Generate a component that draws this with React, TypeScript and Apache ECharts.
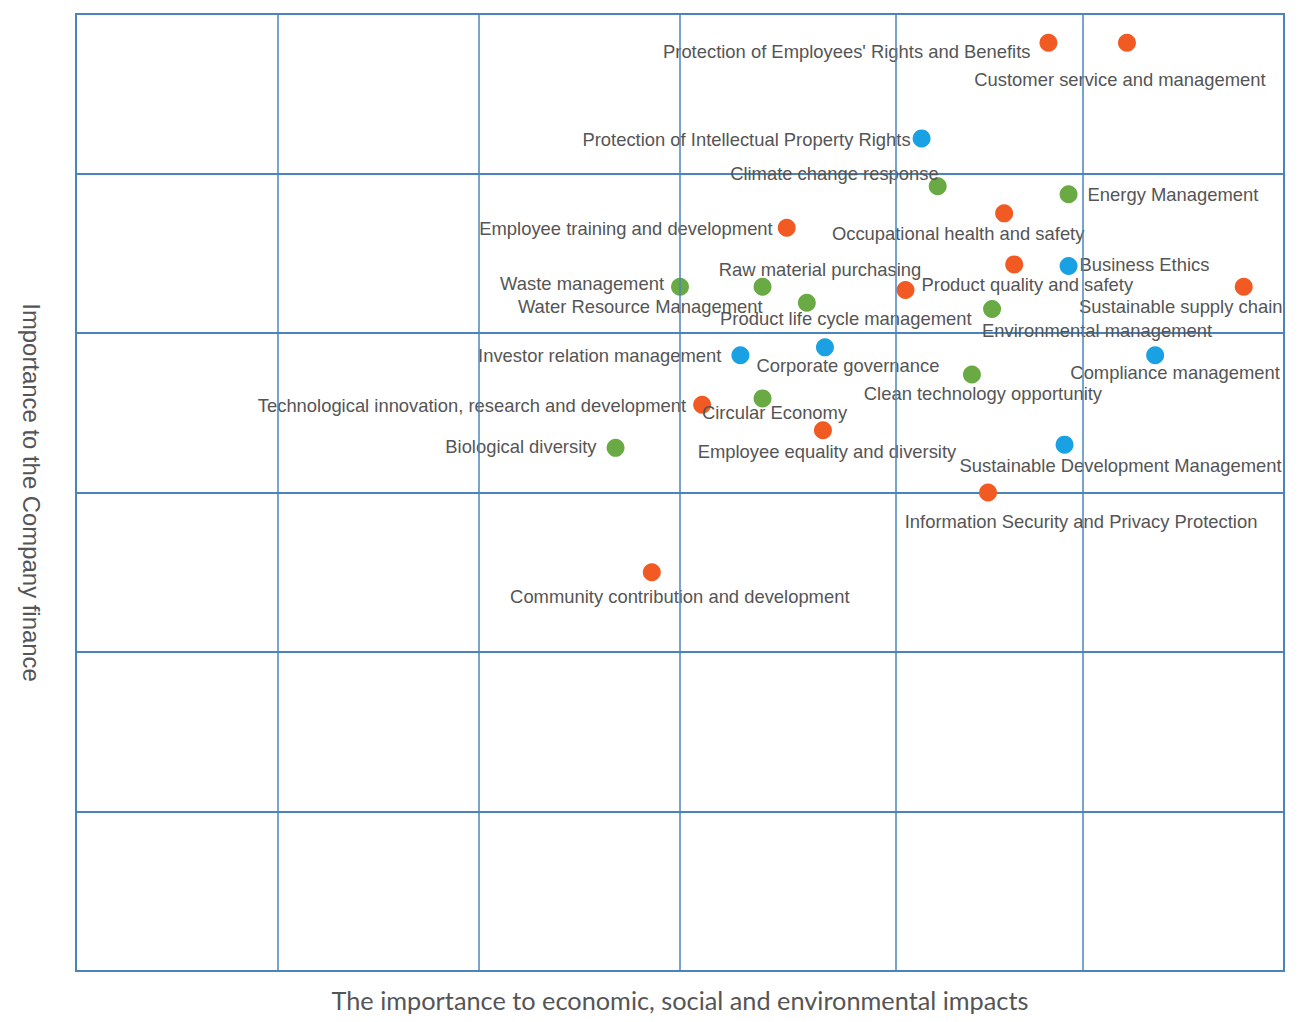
import React, { useEffect, useRef } from "react";
import * as echarts from "echarts";

// Vertical divider positions on the impact axis (grid structure)
const xDividers = [1, 2, 3, 4.07, 5];

// Orange topics
const orangeTopics = [
  "Protection of Employees' Rights and Benefits",
  "Customer service and management",
  "Occupational health and safety",
  "Employee training and development",
  "Raw material purchasing",
  "Product quality and safety",
  "Sustainable supply chain",
  "Technological innovation, research and development",
  "Employee equality and diversity",
  "Information Security and Privacy Protection",
  "Community contribution and development",
];
const orangeImpact = [4.83, 5.22, 4.61, 3.53, 4.66, 4.12, 5.8, 3.11, 3.71, 4.53, 2.86];
const orangeFinance = [5.82, 5.82, 4.75, 4.66, 4.43, 4.27, 4.29, 3.55, 3.39, 3.0, 2.5];

// Blue topics
const blueTopics = [
  "Protection of Intellectual Property Rights",
  "Business Ethics",
  "Investor relation management",
  "Corporate governance",
  "Compliance management",
  "Sustainable Development Management",
];
const blueImpact = [4.2, 4.93, 3.3, 3.72, 5.36, 4.91];
const blueFinance = [5.22, 4.42, 3.86, 3.91, 3.86, 3.3];

// Green topics
const greenTopics = [
  "Climate change response",
  "Energy Management",
  "Waste management",
  "Water Resource Management",
  "Product life cycle management",
  "Environmental management",
  "Clean technology opportunity",
  "Circular Economy",
  "Biological diversity",
];
const greenImpact = [4.28, 4.93, 3.0, 3.41, 3.63, 4.55, 4.45, 3.41, 2.68];
const greenFinance = [4.92, 4.87, 4.29, 4.29, 4.19, 4.15, 3.74, 3.59, 3.28];

// Label placement (offset from point centre in px, alignment)
const labelPlacement: Record<string, [number, number, string]> = {
  "Protection of Employees' Rights and Benefits": [-18, 9, "right"],
  "Customer service and management": [-7, 37, "center"],
  "Occupational health and safety": [-46, 20, "center"],
  "Employee training and development": [-14, 1, "right"],
  "Raw material purchasing": [-93, 5, "right"],
  "Product quality and safety": [16, -5, "left"],
  "Sustainable supply chain": [-63, 20, "center"],
  "Technological innovation, research and development": [-16, 1, "right"],
  "Employee equality and diversity": [4, 21, "center"],
  "Information Security and Privacy Protection": [93, 29, "center"],
  "Community contribution and development": [28, 24, "center"],
  "Protection of Intellectual Property Rights": [-11, 1, "right"],
  "Business Ethics": [11, -2, "left"],
  "Investor relation management": [-19, 0, "right"],
  "Corporate governance": [23, 18, "center"],
  "Compliance management": [20, 17, "center"],
  "Sustainable Development Management": [56, 21, "center"],
  "Climate change response": [1, -13, "right"],
  "Energy Management": [19, 0, "left"],
  "Waste management": [-16, -3, "right"],
  "Water Resource Management": [0, 20, "right"],
  "Product life cycle management": [39, 16, "center"],
  "Environmental management": [105, 21, "center"],
  "Clean technology opportunity": [11, 19, "center"],
  "Circular Economy": [12, 14, "center"],
  "Biological diversity": [-19, -1, "right"],
};

const GRID = "#4a84bd";
const TEXT = "#555555";

export default function App() {
  const ref = useRef<HTMLDivElement>(null);
  useEffect(() => {
    const chart = echarts.init(ref.current as HTMLDivElement, null, { renderer: "svg" });
    const mk = (names: string[], xs: number[], ys: number[], color: string) => ({
      type: "scatter",
      symbol: "circle",
      symbolSize: 18,
      z: 3,
      itemStyle: { color, opacity: 1 },
      emphasis: { disabled: true },
      data: names.map((n, i) => {
        const p = labelPlacement[n] || [0, 20, "center"];
        return {
          name: n,
          value: [xs[i], ys[i]],
          label: {
            show: true,
            position: "inside",
            formatter: n,
            align: p[2],
            verticalAlign: "middle",
            offset: [p[0], p[1]],
            color: TEXT,
            fontSize: 18.4,
            fontFamily: "Liberation Sans, Arial, sans-serif",
            textBorderWidth: 0,
          },
        };
      }),
    });
    chart.setOption({
      animation: false,
      backgroundColor: "#ffffff",
      grid: {
        left: 76,
        right: 19,
        top: 14,
        bottom: 51,
        show: true,
        borderColor: GRID,
        borderWidth: 2,
        backgroundColor: "transparent",
      },
      xAxis: {
        type: "value",
        min: 0,
        max: 6,
        interval: 1,
        axisLine: { show: false },
        axisTick: { show: false },
        axisLabel: { show: false },
        splitLine: { show: false },
        name: "The importance to economic, social and environmental impacts",
        nameLocation: "middle",
        nameGap: 16,
        nameTextStyle: { fontSize: 25.3, color: TEXT, fontFamily: "Lato, sans-serif", verticalAlign: "top" },
      },
      yAxis: {
        type: "value",
        min: 0,
        max: 6,
        interval: 1,
        axisLine: { show: false },
        axisTick: { show: false },
        axisLabel: { show: false },
        splitLine: { show: true, lineStyle: { color: GRID, width: 2 } },
        name: "Importance to the Company finance",
        nameLocation: "middle",
        nameRotate: -90,
        nameGap: 33,
        nameTextStyle: { fontSize: 23.9, color: TEXT, fontFamily: "Liberation Sans, Arial, sans-serif" },
      },
      series: [
        {
          type: "scatter",
          data: [],
          z: 1,
          silent: true,
          markLine: {
            silent: true,
            symbol: "none",
            label: { show: false },
            lineStyle: { color: GRID, width: 1.5, type: "solid" },
            emphasis: { disabled: true },
            data: xDividers.map((v) => ({ xAxis: v })),
          },
        },
        mk(orangeTopics, orangeImpact, orangeFinance, "#f15a22"),
        mk(blueTopics, blueImpact, blueFinance, "#1aa1e3"),
        mk(greenTopics, greenImpact, greenFinance, "#6aaa45"),
      ],
    });
    return () => chart.dispose();
  }, []);
  return (
    <div
      ref={ref}
      style={{ position: "fixed", left: 0, top: 0, width: 1303, height: 1022, background: "#fff" }}
    />
  );
}
